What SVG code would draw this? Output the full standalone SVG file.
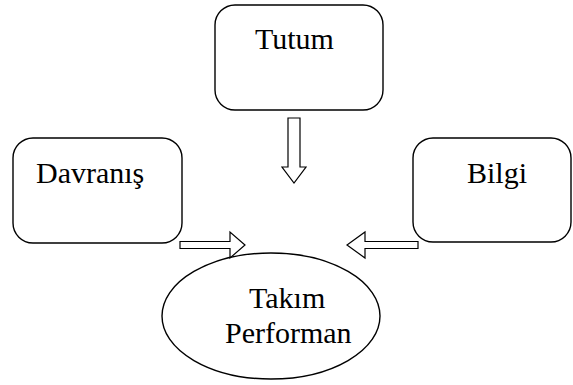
<svg xmlns="http://www.w3.org/2000/svg" width="573" height="385" viewBox="0 0 573 385">
<style>
.box{fill:#fff;stroke:#000;stroke-width:1.4}
.arr{fill:#fff;stroke:#000;stroke-width:1.2;stroke-linejoin:miter}
text{font-family:"Liberation Serif","Times New Roman",serif;font-size:30px;fill:#000}
</style>
<rect width="573" height="385" fill="#fff"/>
<g id="tutum">
<rect class="box" x="215" y="5" width="168" height="105" rx="20"/>
<text x="255" y="49">Tutum</text>
</g>
<g id="davranis">
<rect class="box" x="13" y="138" width="169" height="105" rx="20"/>
<text x="36" y="183">Davranış</text>
</g>
<g id="bilgi">
<rect class="box" x="413" y="138" width="158" height="104" rx="20"/>
<text x="467" y="183">Bilgi</text>
</g>
<g id="takim">
<ellipse class="box" cx="271" cy="316" rx="109" ry="63"/>
<text x="249" y="308">Takım</text>
<text x="225" y="343">Performan</text>
</g>
<g id="connectors">
<polygon class="arr" points="288,118 300,118 300,167 306,167 294,183 282,167 288,167"/>
<polygon class="arr" points="180,241.5 230,241.5 230,232 245,245 230,258 230,248.5 180,248.5"/>
<polygon class="arr" points="418,241.5 365,241.5 365,232 347,245 365,258 365,248.5 418,248.5"/>
</g>
</svg>
